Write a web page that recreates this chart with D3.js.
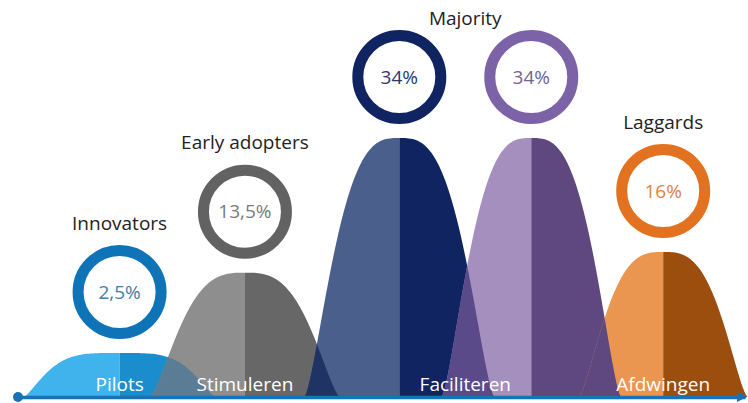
<!DOCTYPE html>
<html>
<head>
<meta charset="utf-8">
<script src="https://cdn.jsdelivr.net/npm/d3@7"></script>
<style>
  body { margin: 0; background: #fff; }
  svg { display: block; font-family: "Open Sans", sans-serif; }
</style>
</head>
<body>
<div id="chart"></div>
<script>
// adoption segments (Rogers curve)
const segments = ['Innovators', 'Early adopters', 'Early majority', 'Late majority', 'Laggards']
const shares = [2.5, 13.5, 34, 34, 16]
// where each segment sits on the curve, in standard deviations
const sigmaPos = [-2.62, -1.67, -0.5, 0.5, 1.5]
// relative height of each hill (majority = 100)
const peaks = [17, 48, 100, 100, 56]

// headings and strategies group the segments (the majority is one group)
const headings = ['Innovators', 'Early adopters', 'Majority', 'Laggards']
const strategies = ['Pilots', 'Stimuleren', 'Faciliteren', 'Afdwingen']
const groups = [[0], [1], [2, 3], [4]]

// styles
const lightCol = ['#41b3ec', '#8e8e8e', '#4b5f8c', '#a48fbf', '#ea9650']
const darkCol = ['#1b8dcd', '#676767', '#0f2461', '#5e487f', '#9b4e0e']
const ringCol = ['#0f74b7', '#626262', '#0f2461', '#7c63a7', '#e2721f']
const pctCol = ['#3f7ea6', '#7a7a7a', '#2b3a68', '#73638f', '#e0823c']
const overlapCol = ['#5a7d95', '#1f3365', '#5a4a89', '#5e487f']
const spread = [0.73, 0.72, 0.72, 0.68, 0.64]
const sharp = [4, 3, 3, 3, 3]

const width = 748
const height = 403
const baseY = 397

const svg = d3.select('#chart').append('svg')
  .attr('width', width)
  .attr('height', height)

const x = d3.scaleLinear().domain([-3.39, 2.12]).range([18, 745])
const y = d3.scaleLinear().domain([0, 100]).range([baseY, 138])

const fmt = d3.formatLocale({decimal: ',', thousands: '.', grouping: [3], currency: ['€', '']}).format('~g')

function hill(i, from, to) {
  let ts = d3.range(from, to + 1e-9, 0.02)
  return d3.area()
    .x(t => x(sigmaPos[i] + t * spread[i]))
    .y0(baseY)
    .y1(t => {
      let a = Math.min(1, Math.pow(Math.abs(t), sharp[i]))
      return y(peaks[i] * Math.pow(1 - a, 1.5))
    })(ts)
}

let defs = svg.append('defs')
segments.forEach((s, i) => {
  defs.append('clipPath').attr('id', 'clip' + i)
    .append('path').attr('d', hill(i, -1, 1))
})

let hills = svg.append('g')
segments.forEach((s, i) => {
  hills.append('path').attr('d', hill(i, -1, 0)).attr('fill', lightCol[i])
  hills.append('path').attr('d', hill(i, 0, 1)).attr('fill', darkCol[i])
})

// where neighbouring hills overlap
for (let i = 0; i < segments.length - 1; i++) {
  hills.append('path')
    .attr('d', hill(i + 1, -1, 1))
    .attr('clip-path', `url(#clip${i})`)
    .attr('fill', overlapCol[i])
}

// rings with the share
let ringY = i => y(peaks[i]) - 61
let rings = svg.append('g').selectAll('g')
  .data(segments)
  .enter().append('g')
  .attr('transform', (d, i) => `translate(${x(sigmaPos[i])},${ringY(i)})`)

rings.append('circle')
  .attr('r', 41.5)
  .attr('fill', '#fff')
  .attr('stroke', (d, i) => ringCol[i])
  .attr('stroke-width', 11)

rings.append('text')
  .attr('text-anchor', 'middle')
  .attr('dy', '0.35em')
  .attr('font-size', '19px')
  .attr('fill', (d, i) => pctCol[i])
  .text((d, i) => fmt(shares[i]) + '%')

// headings above the rings
svg.append('g').selectAll('text')
  .data(headings)
  .enter().append('text')
  .attr('text-anchor', 'middle')
  .attr('x', (d, k) => d3.mean(groups[k], i => x(sigmaPos[i])))
  .attr('y', (d, k) => Math.max(18, d3.min(groups[k], i => ringY(i)) - 69))
  .attr('dy', '0.35em')
  .attr('font-size', '19px')
  .attr('fill', '#222')
  .text(d => d)

// axis
let axis = svg.append('g')
  .attr('transform', `translate(0,${baseY})`)
  .call(d3.axisBottom(x).ticks(0).tickSizeOuter(0))
axis.select('.domain').attr('stroke', '#1872b7').attr('stroke-width', 3.5)

let x1 = x.range()[1]
svg.append('path')
  .attr('d', `M${x1 - 8},${baseY - 5}L${x1 + 2},${baseY}L${x1 - 8},${baseY + 5}Z`)
  .attr('fill', '#1872b7')
svg.append('circle')
  .attr('cx', x.range()[0])
  .attr('cy', baseY)
  .attr('r', 5)
  .attr('fill', '#1872b7')

// strategies along the bottom
svg.append('g').selectAll('text')
  .data(strategies)
  .enter().append('text')
  .attr('text-anchor', 'middle')
  .attr('x', (d, k) => d3.mean(groups[k], i => x(sigmaPos[i])))
  .attr('y', 391)
  .attr('font-size', '19px')
  .attr('fill', '#fff')
  .text(d => d)
</script>
</body>
</html>
